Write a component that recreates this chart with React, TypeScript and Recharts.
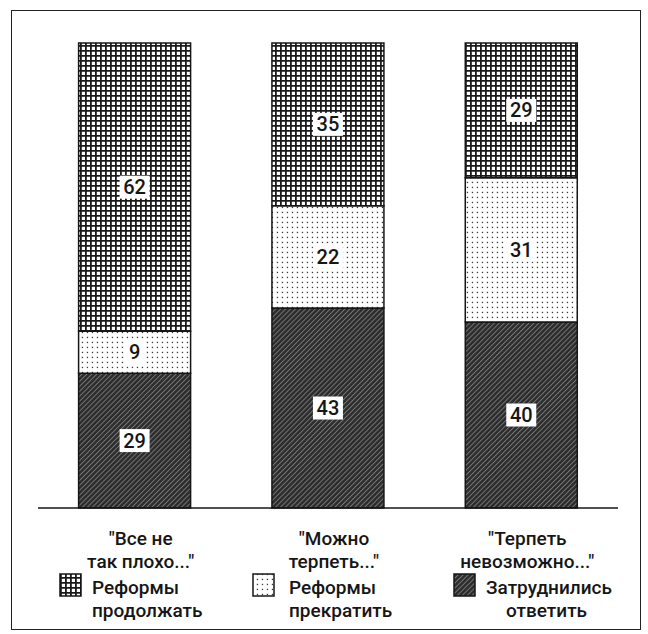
import React from 'react';
import { BarChart, Bar, XAxis, YAxis, LabelList } from 'recharts';

const categories = ['"Все не так плохо..."', '"Можно терпеть..."', '"Терпеть невозможно..."'];
const categoryLines = [
  ['"Все не', 'так плохо..."'],
  ['"Можно', 'терпеть..."'],
  ['"Терпеть', 'невозможно..."'],
];
const continueReforms = [62, 35, 29];
const stopReforms = [9, 22, 31];
const undecided = [29, 43, 40];

const seriesNames = ['Реформы продолжать', 'Реформы прекратить', 'Затруднились ответить'];
const legendLines = [
  ['Реформы', 'продолжать'],
  ['Реформы', 'прекратить'],
  ['Затруднились', 'ответить'],
];

const data = categories.map((c, i) => ({
  name: c,
  undecided: undecided[i],
  stop: stopReforms[i],
  cont: continueReforms[i],
}));

const FONT = 'Roboto, "DejaVu Sans", sans-serif';
const INK = '#161616';

const fills = ['url(#gridPat)', 'url(#dotPat)', 'url(#hatchPat)'];
const legendIconX = [60, 253, 454];
const legendTextX = [92, 289, 486];
const legendLine2Indent = [0, 0, 20];

const PatternDefs = () => (
  <defs>
    <pattern id="gridPat" width="5" height="5" patternUnits="userSpaceOnUse">
      <rect width="5" height="5" fill="#ffffff" />
      <path d="M0 0.9 H5 M0.9 0 V5" stroke="#1a1a1a" strokeWidth="1.8" />
    </pattern>
    <pattern id="dotPat" width="5" height="5" patternUnits="userSpaceOnUse">
      <rect width="5" height="5" fill="#ffffff" />
      <rect x="1.8" y="1.8" width="1.3" height="1.3" fill="#3a3a3a" />
    </pattern>
    <pattern id="hatchPat" width="3.5" height="3.5" patternUnits="userSpaceOnUse" patternTransform="rotate(45)">
      <rect width="3.5" height="3.5" fill="#2c2c2c" />
      <line x1="0.5" y1="0" x2="0.5" y2="3.5" stroke="#7c7c7c" strokeWidth="0.9" />
    </pattern>
  </defs>
);

const CategoryTick = (props: any) => {
  const { x, y, index } = props;
  const lines = categoryLines[index] || [];
  return (
    <g>
      {lines.map((l, k) => (
        <text key={k} x={x + 6} y={y + 29 + k * 23} textAnchor="middle" fontFamily={FONT} fontSize={19} fontWeight={500} fill={INK}>
          {l}
        </text>
      ))}
    </g>
  );
};

const ValueLabel = (props: any) => {
  const { x, y, width, height, value } = props;
  const cx = Number(x) + Number(width) / 2;
  const cy = Number(y) + Number(height) / 2;
  const s = String(value);
  const w = s.length * 11 + 8;
  const h = 23;
  return (
    <g>
      <rect x={cx - w / 2} y={cy - h / 2} width={w} height={h} fill="#ffffff" />
      <text x={cx} y={cy + 7} textAnchor="middle" fontFamily={FONT} fontSize={20} fontWeight={500} fill={INK}>
        {s}
      </text>
    </g>
  );
};

const LegendBlock = () => (
  <svg width={648} height={62} style={{ position: 'absolute', left: 0, top: 572, display: 'block' }}>
    <PatternDefs />
    {[0, 1, 2].map((i) => (
      <g key={i}>
        <rect x={legendIconX[i]} y={2} width={21} height={22} fill={fills[i]} stroke={INK} strokeWidth={1.5} />
        <text x={legendTextX[i]} y={22} fontFamily={FONT} fontSize={19} fontWeight={500} fill={INK}>
          {legendLines[i][0]}
        </text>
        <text x={legendTextX[i] + legendLine2Indent[i]} y={45} fontFamily={FONT} fontSize={19} fontWeight={500} fill={INK}>
          {legendLines[i][1]}
        </text>
      </g>
    ))}
  </svg>
);

export default function App() {
  return (
    <div style={{ position: 'absolute', left: 0, top: 0, width: 648, height: 634, background: '#ffffff' }}>
      <div
        style={{
          position: 'absolute',
          left: 11,
          top: 10,
          width: 630,
          height: 620,
          border: '1.5px solid #222',
          boxSizing: 'border-box',
        }}
      />
      <div style={{ position: 'absolute', left: 0, top: 0 }}>
        <BarChart
          width={648}
          height={634}
          data={data}
          margin={{ top: 43, right: 30, left: 38, bottom: 0 }}
          barCategoryGap="21%"
        >
          <PatternDefs />
          <XAxis
            dataKey="name"
            axisLine={{ stroke: INK, strokeWidth: 1.5 }}
            tickLine={false}
            tick={<CategoryTick />}
            interval={0}
            height={126}
          />
          <YAxis hide domain={[0, 100]} />
          <Bar dataKey="undecided" name={seriesNames[2]} stackId="a" fill={fills[2]} stroke={INK} strokeWidth={1.5} isAnimationActive={false}>
            <LabelList dataKey="undecided" content={<ValueLabel />} />
          </Bar>
          <Bar dataKey="stop" name={seriesNames[1]} stackId="a" fill={fills[1]} stroke={INK} strokeWidth={1.5} isAnimationActive={false}>
            <LabelList dataKey="stop" content={<ValueLabel />} />
          </Bar>
          <Bar dataKey="cont" name={seriesNames[0]} stackId="a" fill={fills[0]} stroke={INK} strokeWidth={1.5} isAnimationActive={false}>
            <LabelList dataKey="cont" content={<ValueLabel />} />
          </Bar>
        </BarChart>
      </div>
      <LegendBlock />
    </div>
  );
}
